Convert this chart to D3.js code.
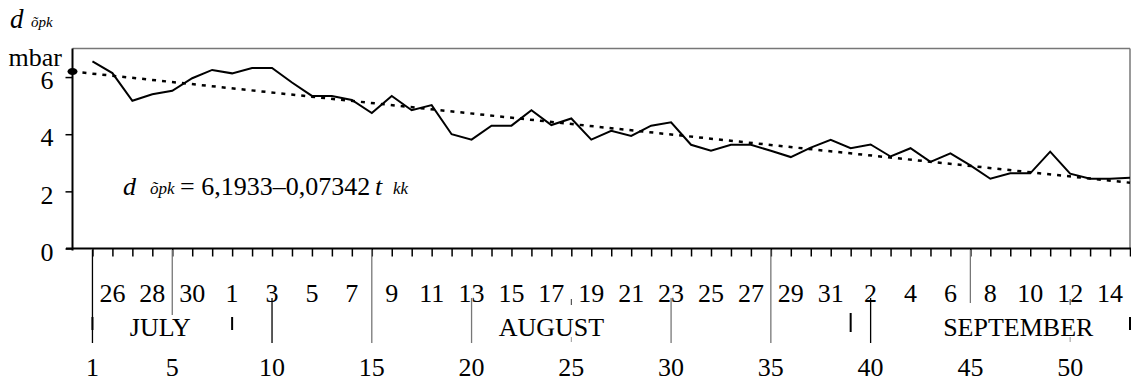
<!DOCTYPE html>
<html>
<head>
<meta charset="utf-8">
<script src="https://cdn.jsdelivr.net/npm/d3@7"></script>
<style>
  body { margin: 0; background: #fff; }
  svg { display: block; font-family: "Liberation Serif", "Times New Roman", serif; }
  .axis path, .axis line { stroke: #000; stroke-width: 1.5; }
  .axis text { font-size: 26px; fill: #000; font-family: "Liberation Serif", serif; }
</style>
</head>
<body>
<svg id="chart" width="1131" height="378"></svg>
<script>
// pressure by day number (t = 1..53)
var pressure = [6.55, 6.14, 5.17, 5.40, 5.52, 5.96, 6.25, 6.13, 6.32, 6.32,
  5.81, 5.34, 5.34, 5.20, 4.74, 5.34, 4.84, 5.02, 4.00, 3.81,
  4.30, 4.30, 4.84, 4.32, 4.55, 3.81, 4.12, 3.94, 4.30, 4.42,
  3.63, 3.42, 3.63, 3.63, 3.42, 3.20, 3.53, 3.80, 3.51, 3.64,
  3.22, 3.51, 3.03, 3.33, 2.91, 2.44, 2.63, 2.63, 3.39, 2.62,
  2.44, 2.44, 2.48];
var fitA = 6.1933, fitB = -0.07342;
var yTicks = [0, 2, 4, 6];
var dateTicks = d3.range(2, 53, 2);
var dateLabels = ["26","28","30","1","3","5","7","9","11","13","15","17","19","21",
  "23","25","27","29","31","2","4","6","8","10","12","14"];
var months = ["JULY", "AUGUST", "SEPTEMBER"];
var monthAt = [4.4, 24, 47.4];
var indexTicks = [1, 5, 10, 15, 20, 25, 30, 35, 40, 45, 50];
var longSeps = [1, 15, 35];
var upperSeps = [5, 45];
var lowerSeps = [10, 20, 30, 40];
var monthBreaks = [1, 8, 39, 53];
var minorMarks = [25, 50];

var svg = d3.select("#chart");
var x = d3.scaleLinear().domain([0, 53]).range([72.5, 1130]);
var y = d3.scaleLinear().domain([0, 7]).range([248.5, 48.5]);

// frame
svg.append("line").attr("x1", x(0)).attr("x2", 1130).attr("y1", y(7)).attr("y2", y(7))
  .attr("stroke", "#777").attr("stroke-width", 1.5);
svg.append("line").attr("x1", 1130).attr("x2", 1130).attr("y1", y(7)).attr("y2", y(0))
  .attr("stroke", "#777").attr("stroke-width", 1.5);

// y axis
var gy = svg.append("g").attr("class", "axis").attr("transform", "translate(" + x(0) + ",0)")
  .call(d3.axisLeft(y).tickValues(yTicks).tickSize(7).tickFormat(d3.format("d")));
gy.select(".domain").remove();
gy.selectAll("text").attr("x", -19).attr("dy", "0.45em");
svg.append("line").attr("x1", x(0)).attr("x2", x(0)).attr("y1", y(7)).attr("y2", y(0) + 2)
  .attr("stroke", "#000").attr("stroke-width", 2);

// x axis
var gx = svg.append("g").attr("class", "axis").attr("transform", "translate(0," + y(0) + ")")
  .call(d3.axisBottom(x).tickValues(d3.range(1, 54)).tickSize(8).tickFormat(""));
gx.select(".domain").remove();
svg.append("line").attr("x1", 66).attr("x2", 1131).attr("y1", y(0)).attr("y2", y(0))
  .attr("stroke", "#000").attr("stroke-width", 2);

svg.append("text").attr("x", 62).attr("y", 66).attr("text-anchor", "end")
  .style("font-size", "26px").text("mbar");

// title
var title = svg.append("text").attr("x", 10).attr("y", 28).style("font-style", "italic");
title.append("tspan").style("font-size", "27px").text("d");
title.append("tspan").attr("x", 31).attr("y", 27).style("font-size", "15px").text("õpk");

// separators under the axis
function vline(t, y1, y2, col, w) {
  svg.append("line").attr("x1", x(t)).attr("x2", x(t)).attr("y1", y1).attr("y2", y2)
    .attr("stroke", col).attr("stroke-width", w);
}
longSeps.forEach(function (t) { vline(t, 250, 343, t == 1 ? "#000" : "#777", 1.3); });
upperSeps.forEach(function (t) { vline(t, 250, t == 5 ? 315 : 303, "#777", 1.3); });
lowerSeps.forEach(function (t) { vline(t, 298, 343, t == 10 || t == 40 ? "#000" : "#777", 1.3); });
monthBreaks.forEach(function (t) { vline(t, t == 39 ? 313 : 317, t == 39 ? 332 : 330, "#000", 2); });
minorMarks.forEach(function (t) { vline(t, 299, 305, "#333", 1); vline(t, 337, 342, "#999", 1); });

// labels
svg.selectAll(".date").data(dateTicks).enter().append("text")
  .attr("x", function (d) { return x(d); }).attr("y", 302)
  .attr("text-anchor", "middle").style("font-size", "26px")
  .text(function (d, i) { return dateLabels[i]; });
svg.selectAll(".month").data(months).enter().append("text")
  .attr("x", function (d, i) { return x(monthAt[i]); }).attr("y", 336)
  .attr("text-anchor", "middle").style("font-size", "26px").text(function (d) { return d; });
svg.selectAll(".idx").data(indexTicks).enter().append("text")
  .attr("x", function (d) { return x(d); }).attr("y", 376)
  .attr("text-anchor", "middle").style("font-size", "26px").text(function (d) { return d; });

// trend
var fit = [0, 53].map(function (t) { return { t: t, v: fitA + fitB * t }; });
var line = d3.line().x(function (d) { return x(d.t); }).y(function (d) { return y(d.v); });
svg.append("path").datum(fit).attr("d", line).attr("fill", "none")
  .attr("stroke", "#000").attr("stroke-width", 2.5).attr("stroke-dasharray", "4,6");
svg.append("ellipse").attr("cx", x(0)).attr("cy", y(fitA)).attr("rx", 5).attr("ry", 3.5).attr("fill", "#000");

// measured
var series = pressure.map(function (v, i) { return { t: i + 1, v: v }; });
svg.append("path").datum(series).attr("d", line).attr("fill", "none")
  .attr("stroke", "#000").attr("stroke-width", 2).attr("stroke-linejoin", "miter");

// equation
function eq(xp, yp, size, italic, txt) {
  svg.append("text").attr("x", xp).attr("y", yp).style("font-size", size + "px")
    .style("font-style", italic ? "italic" : "normal").text(txt);
}
eq(123, 195, 26, true, "d");
eq(150, 194, 17, true, "õpk");
eq(180, 195, 26, false, "= 6,1933–0,07342");
eq(375, 195, 26, true, "t");
eq(393, 194, 17, true, "kk");
</script>
</body>
</html>
